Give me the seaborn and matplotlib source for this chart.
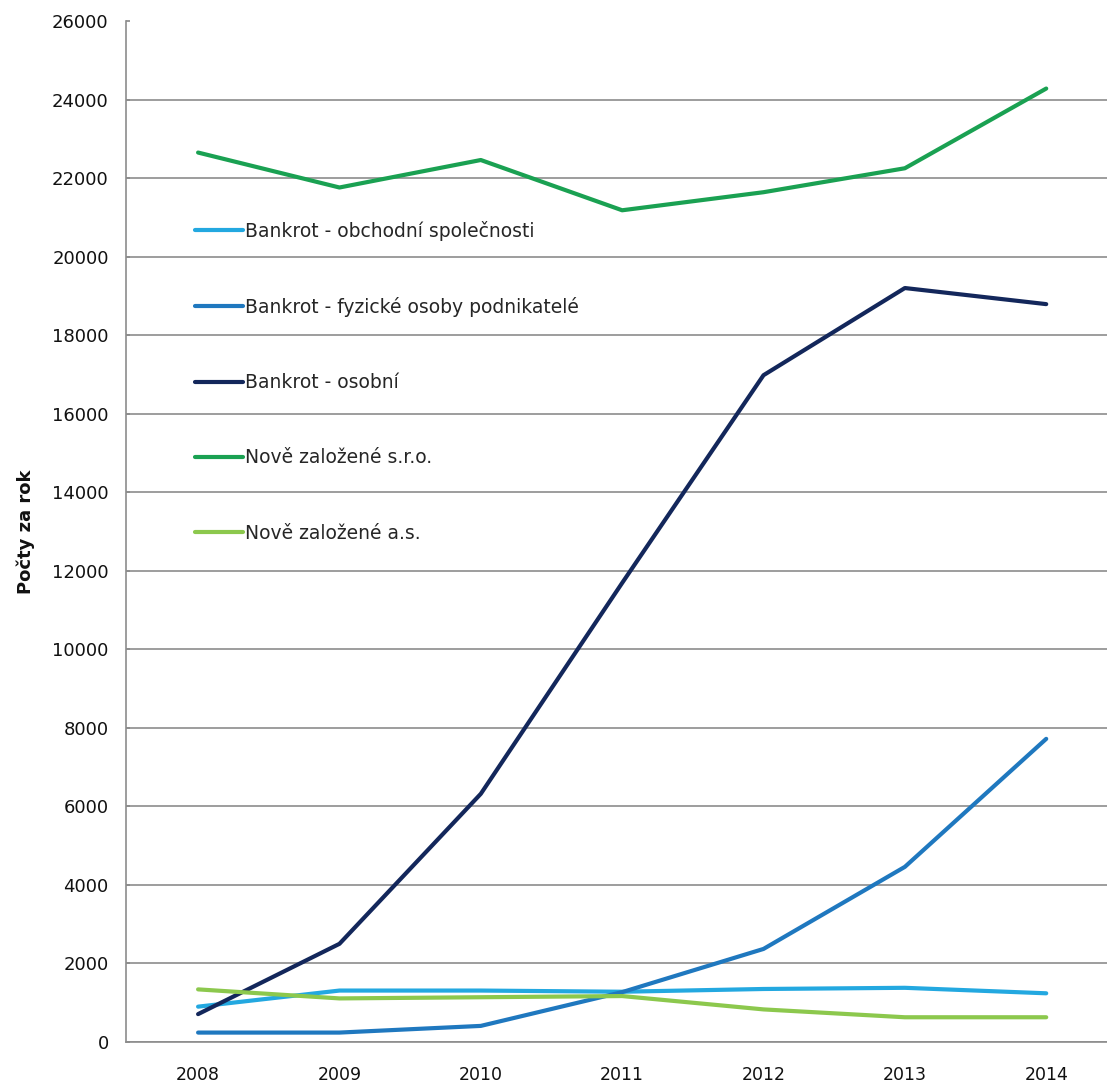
import matplotlib
matplotlib.use("Agg")
import matplotlib.pyplot as plt
import seaborn as sns
import pandas as pd

years = ["2008", "2009", "2010", "2011", "2012", "2013", "2014"]
series_names = [
    "Bankrot - obchodní společnosti",
    "Bankrot - fyzické osoby podnikatelé",
    "Bankrot - osobní",
    "Nově založené s.r.o.",
    "Nově založené a.s.",
]
bankrot_obchodni = [900, 1310, 1310, 1280, 1350, 1380, 1240]
bankrot_fyzicke = [240, 240, 410, 1270, 2370, 4460, 7720]
bankrot_osobni = [710, 2500, 6320, 11690, 16980, 19200, 18790]
nove_sro = [22650, 21760, 22460, 21180, 21640, 22250, 24280]
nove_as = [1340, 1110, 1140, 1170, 830, 630, 630]
yticks = list(range(0, 26001, 2000))

colors = ["#23A8E0", "#1F78BF", "#13275B", "#1AA152", "#8CC84D"]

rows = []
for name, vals in zip(series_names,
                      [bankrot_obchodni, bankrot_fyzicke, bankrot_osobni, nove_sro, nove_as]):
    for i, (y, v) in enumerate(zip(years, vals)):
        rows.append({"idx": i, "year": y, "series": name, "value": v})
df = pd.DataFrame(rows)

sns.set_theme(style="white")
plt.rcParams["font.family"] = ["DejaVu Sans"]

fig = plt.figure(figsize=(11.07, 10.84), dpi=100)
ax = fig.add_axes([126 / 1107, 42 / 1084, 1 - 126 / 1107, (1042 - 21) / 1084])

sns.lineplot(data=df, x="idx", y="value", hue="series", hue_order=series_names,
             palette=colors, linewidth=3.0, ax=ax, legend=True, sort=False)

ax.set_xlim(-0.51, 6.43)
ax.set_ylim(0, 26000)
ax.set_yticks(yticks)
ax.set_yticklabels([str(t) for t in yticks], fontsize=13, color="#111111")
ax.set_xticks(range(len(years)))
ax.set_xticklabels(years, fontsize=12.5, color="#111111")
ax.set_xlabel("")
ax.set_ylabel("Počty za rok", fontsize=13, fontweight="bold", color="#111111", labelpad=12)

ax.grid(axis="y", color="#8C8C8C", linewidth=1.2)
ax.grid(axis="x", visible=False)
ax.get_ygridlines()[-1].set_visible(False)
ax.set_axisbelow(True)
for s in ["top", "right"]:
    ax.spines[s].set_visible(False)
for s in ["left", "bottom"]:
    ax.spines[s].set_color("#8C8C8C")
    ax.spines[s].set_linewidth(1.2)
ax.tick_params(axis="y", direction="in", length=3, color="#8C8C8C", pad=12.5, left=True)
ax.tick_params(axis="x", length=0, pad=17)

handles, labels = ax.get_legend_handles_labels()
leg = ax.legend(handles, labels, loc="upper left", bbox_to_anchor=(0.0703, 0.8045),
                frameon=False, fontsize=13.5, handlelength=2.55, handletextpad=0.1,
                labelspacing=3.0, borderpad=0, borderaxespad=0)
for h in leg.get_lines():
    h.set_linewidth(3.0)

fig.savefig("out.png", dpi=100)
